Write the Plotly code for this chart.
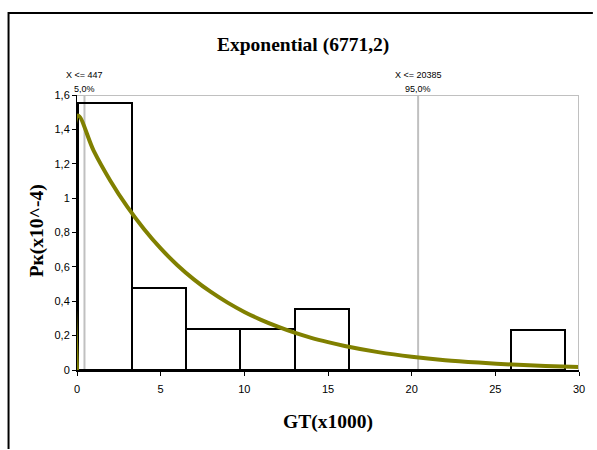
import plotly.graph_objects as go

# Histogram of GT (x1000), density in units of 1e-4
bin_left = [0.08, 3.31, 6.54, 9.77, 13.00, 16.23, 19.46, 22.69, 25.92]
bin_width = 3.23
density = [1.555, 0.475, 0.237, 0.237, 0.355, 0.0, 0.0, 0.0, 0.233]

# Fitted Exponential(6771,2) density curve
curve_x = [0, 0.05, 1, 2, 3, 4, 5, 6, 7, 8, 9, 10, 11, 12, 13, 14, 15, 16,
           18, 20, 22, 24, 26, 28, 30]
curve_y = [0, 1.48, 1.275, 1.10, 0.95, 0.82, 0.707, 0.61, 0.526, 0.454, 0.392,
           0.338, 0.292, 0.252, 0.217, 0.187, 0.162, 0.14, 0.104, 0.077, 0.057,
           0.043, 0.032, 0.024, 0.0176]

# Percentile markers
marker_x = [0.447, 20.385]
marker_top = ["X <= 447", "X <= 20385"]
marker_pct = ["5,0%", "95,0%"]

y_ticks = [0, 0.2, 0.4, 0.6, 0.8, 1.0, 1.2, 1.4, 1.6]
y_tick_text = ["0", "0,2", "0,4", "0,6", "0,8", "1", "1,2", "1,4", "1,6"]
x_ticks = [0, 5, 10, 15, 20, 25, 30]

X0, X1, Y0, Y1 = 0, 30, 0, 1.6
L, R, T, B = 77, 14, 95, 80
PW, PH = 597 - L - R, 450 - T - B


def px(xp):
    return (xp - L) / PW


def py(yp):
    return (450 - B - yp) / PH


fig = go.Figure()

centers = [b + bin_width / 2 for b in bin_left]
fig.add_trace(go.Bar(
    x=centers, y=density, width=[bin_width] * len(centers),
    marker=dict(color="rgba(255,255,255,0)", line=dict(color="black", width=2)),
    showlegend=False, hoverinfo="skip",
))

# plot frame (top/right) and percentile lines in light gray
shapes = [
    dict(type="line", xref="x", yref="y", x0=X0, x1=X1, y0=Y1, y1=Y1,
         line=dict(color="#c0c0c0", width=2)),
    dict(type="line", xref="x", yref="y", x0=X1, x1=X1, y0=Y0, y1=Y1,
         line=dict(color="#c0c0c0", width=2)),
]
for mx in marker_x:
    shapes.append(dict(type="line", xref="x", yref="y", x0=mx, x1=mx, y0=Y0, y1=Y1,
                       line=dict(color="#c0c0c0", width=2), layer="below"))
# outer chart frame: top and left edges as thin filled strips
shapes.append(dict(type="rect", xref="paper", yref="paper",
                   x0=px(7.5), x1=px(597), y0=py(14), y1=py(12),
                   fillcolor="black", line=dict(width=0)))
shapes.append(dict(type="rect", xref="paper", yref="paper",
                   x0=px(7), x1=px(9), y0=py(449), y1=py(12),
                   fillcolor="black", line=dict(width=0)))

fig.add_trace(go.Scatter(
    x=curve_x, y=curve_y, mode="lines", line=dict(color="#808000", width=4, shape="spline"),
    showlegend=False, hoverinfo="skip",
))

small = dict(family="Liberation Sans", size=9, color="black")
big = dict(family="Liberation Serif", size=19.5, color="black")

annotations = []
for mx, t1, t2 in zip(marker_x, marker_top, marker_pct):
    annotations.append(dict(x=mx, xref="x", y=py(75), yref="paper", text=t1,
                            xanchor="center", yanchor="middle", showarrow=False, font=small))
    annotations.append(dict(x=mx, xref="x", y=py(89), yref="paper", text=t2,
                            xanchor="center", yanchor="middle", showarrow=False, font=small))

annotations.append(dict(x=px(305), y=py(45), xref="paper", yref="paper",
                        text="<b>Exponential (6771,2)</b>", showarrow=False,
                        xanchor="center", yanchor="middle", font=big))
annotations.append(dict(x=px(330), y=py(422), xref="paper", yref="paper",
                        text="<b>GT(x1000)</b>", showarrow=False,
                        xanchor="center", yanchor="middle", font=big))
annotations.append(dict(x=px(37), y=py(231), xref="paper", yref="paper",
                        text="<b>Pк(x10^-4)</b>", showarrow=False, textangle=-90,
                        xanchor="center", yanchor="middle", font=big))

fig.update_layout(
    width=597, height=450,
    margin=dict(l=L, r=R, t=T, b=B),
    paper_bgcolor="white", plot_bgcolor="white",
    bargap=0,
    shapes=shapes, annotations=annotations,
    xaxis=dict(range=[X0, X1], tickvals=x_ticks, showgrid=False, zeroline=False,
               showline=True, linecolor="black", linewidth=2,
               ticks="outside", ticklen=4, tickcolor="black", ticklabelstandoff=4,
               tickfont=dict(family="Liberation Sans", size=11, color="black")),
    yaxis=dict(range=[Y0, Y1], tickvals=y_ticks, ticktext=y_tick_text,
               showgrid=False, zeroline=False,
               showline=True, linecolor="black", linewidth=1,
               ticks="outside", ticklen=4, tickcolor="black",
               tickfont=dict(family="Liberation Sans", size=11, color="black")),
)

fig.write_html("out.html")
